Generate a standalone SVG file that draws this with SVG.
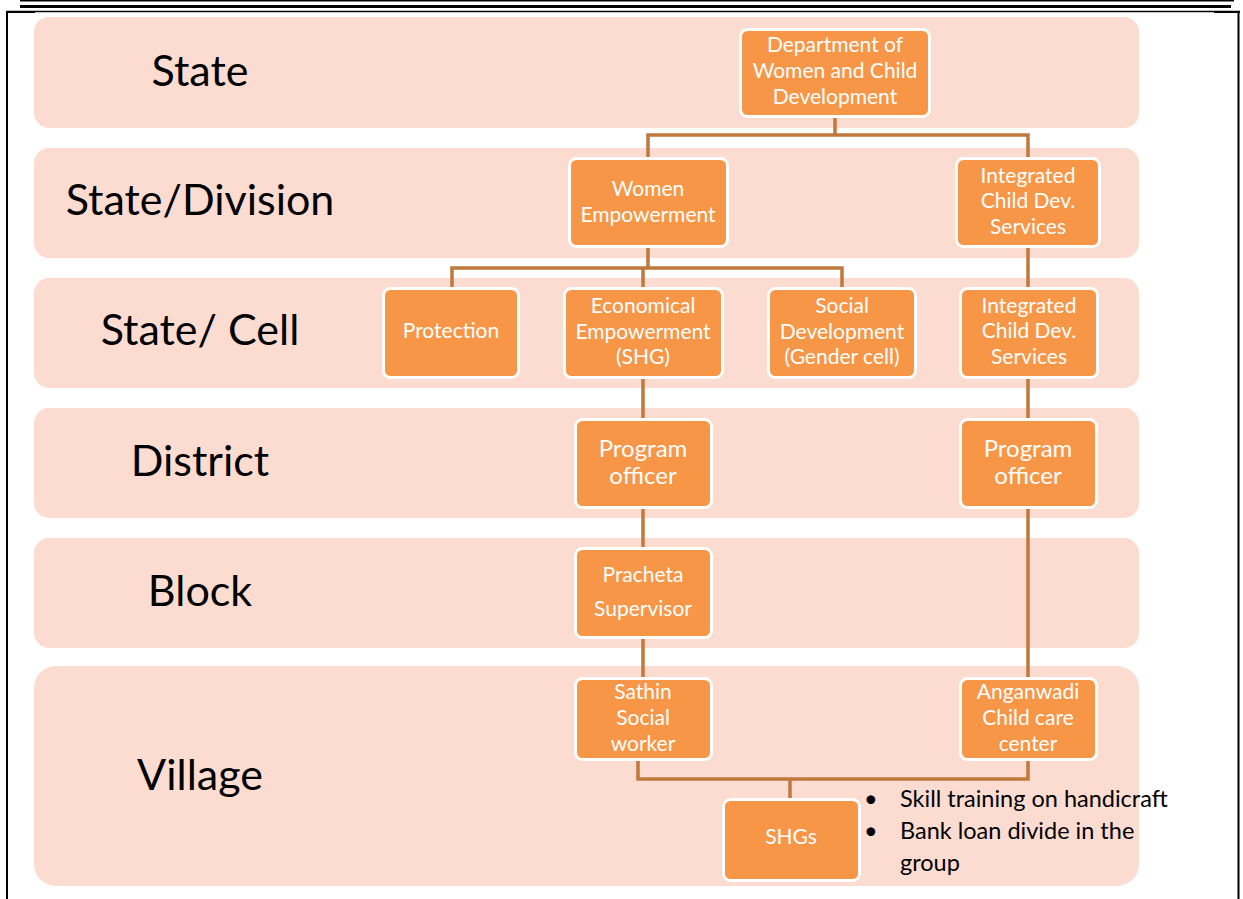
<svg xmlns="http://www.w3.org/2000/svg" width="1243" height="899" viewBox="0 0 1243 899">
<style>
.band{fill:#FCDCD0}
.node rect{fill:#F79646;stroke:#FFFFFF;stroke-width:3}
.node text{font-family:Lato,"Liberation Sans",sans-serif;font-size:21px;fill:#FFFFFF;text-anchor:middle}
.node text.big{font-size:24px}
.lvl{font-family:Lato,"Liberation Sans",sans-serif;font-size:43px;fill:#000000;text-anchor:middle}
.bul{font-family:Lato,"Liberation Sans",sans-serif;font-size:23.5px;fill:#000000}
#connectors path{fill:none;stroke:#C0783C;stroke-width:3.5}
</style>
<rect width="1243" height="899" fill="#FFFFFF"/>
<g id="frame" stroke="#000000" fill="none">
<line x1="20" y1="0.8" x2="1234" y2="0.8" stroke-width="1.5"/>
<line x1="20" y1="6.5" x2="1231" y2="6.5" stroke-width="3"/>
<line x1="6" y1="11.5" x2="1240" y2="11.5" stroke-width="1.5"/>
<line x1="6" y1="12" x2="35" y2="12" stroke-width="2"/>
<line x1="1214" y1="12" x2="1240" y2="12" stroke-width="2"/>
<line x1="7" y1="11" x2="7" y2="899" stroke-width="2"/>
<line x1="1238.5" y1="11" x2="1238.5" y2="899" stroke-width="2"/>
</g>
<g id="bands">
<rect class="band" x="34" y="17" width="1105" height="111" rx="15"/>
<rect class="band" x="34" y="148" width="1105" height="110" rx="15"/>
<rect class="band" x="34" y="278" width="1105" height="110" rx="15"/>
<rect class="band" x="34" y="408" width="1105" height="110" rx="15"/>
<rect class="band" x="34" y="538" width="1105" height="110" rx="15"/>
<rect class="band" x="34" y="666" width="1105" height="220" rx="22"/>
</g>
<g id="levels">
<text class="lvl" x="200" y="86">State</text>
<text class="lvl" x="200" y="215">State/Division</text>
<text class="lvl" x="200" y="345">State/ Cell</text>
<text class="lvl" x="200" y="476">District</text>
<text class="lvl" x="200" y="606">Block</text>
<text class="lvl" x="200" y="790">Village</text>
</g>
<g id="connectors">
<path d="M835 118 V135 M648 157 V135 H1028 V157"/>
<path d="M648 248 V268 M452 287 V268 H842 V287 M643 268 V287"/>
<path d="M1028 248 V287"/>
<path d="M643 379 V418"/>
<path d="M1028 379 V418"/>
<path d="M643 509 V547"/>
<path d="M643 639 V677"/>
<path d="M1028 509 V677"/>
<path d="M638 761 V779 H1028 V761 M790 779 V798"/>
</g>
<g id="n-dept" class="node"><rect x="740.5" y="29.5" width="189" height="87" rx="7"/>
<text x="835" y="52">Department of</text><text x="835" y="78">Women and Child</text><text x="835" y="104">Development</text></g>
<g id="n-we" class="node"><rect x="569.5" y="158.5" width="158" height="88" rx="7"/>
<text x="648" y="196">Women</text><text x="648" y="222">Empowerment</text></g>
<g id="n-icds1" class="node"><rect x="956.5" y="158.5" width="143" height="88" rx="7"/>
<text x="1028" y="183">Integrated</text><text x="1028" y="208">Child Dev.</text><text x="1028" y="234">Services</text></g>
<g id="n-prot" class="node"><rect x="383.5" y="288.5" width="135" height="89" rx="7"/>
<text x="451" y="338">Protection</text></g>
<g id="n-econ" class="node"><rect x="564.5" y="288.5" width="158" height="89" rx="7"/>
<text x="643" y="313">Economical</text><text x="643" y="339">Empowerment</text><text x="643" y="364">(SHG)</text></g>
<g id="n-soc" class="node"><rect x="768.5" y="288.5" width="147" height="89" rx="7"/>
<text x="842" y="313">Social</text><text x="842" y="339">Development</text><text x="842" y="364">(Gender cell)</text></g>
<g id="n-icds2" class="node"><rect x="960.5" y="288.5" width="137" height="89" rx="7"/>
<text x="1029" y="313">Integrated</text><text x="1029" y="338">Child Dev.</text><text x="1029" y="364">Services</text></g>
<g id="n-po1" class="node"><rect x="575.5" y="419.5" width="136" height="88" rx="7"/>
<text class="big" x="643" y="457">Program</text><text class="big" x="643" y="484">officer</text></g>
<g id="n-po2" class="node"><rect x="960.5" y="419.5" width="136" height="88" rx="7"/>
<text class="big" x="1028" y="457">Program</text><text class="big" x="1028" y="484">officer</text></g>
<g id="n-prach" class="node"><rect x="575.5" y="548.5" width="136" height="89" rx="7"/>
<text x="643" y="582">Pracheta</text><text x="643" y="616">Supervisor</text></g>
<g id="n-sathin" class="node"><rect x="575.5" y="678.5" width="136" height="81" rx="7"/>
<text x="643" y="699">Sathin</text><text x="643" y="725">Social</text><text x="643" y="751">worker</text></g>
<g id="n-angan" class="node"><rect x="960.5" y="678.5" width="136" height="81" rx="7"/>
<text x="1028" y="699">Anganwadi</text><text x="1028" y="725">Child care</text><text x="1028" y="751">center</text></g>
<g id="n-shg" class="node"><rect x="723.5" y="799.5" width="136" height="81" rx="7"/>
<text x="791" y="844">SHGs</text></g>
<g id="notes">
<text class="bul" x="864" y="807">•</text><text class="bul" x="900" y="807">Skill training on handicraft</text>
<text class="bul" x="864" y="839">•</text><text class="bul" x="900" y="839">Bank loan divide in the</text>
<text class="bul" x="900" y="871">group</text>
</g>
</svg>
